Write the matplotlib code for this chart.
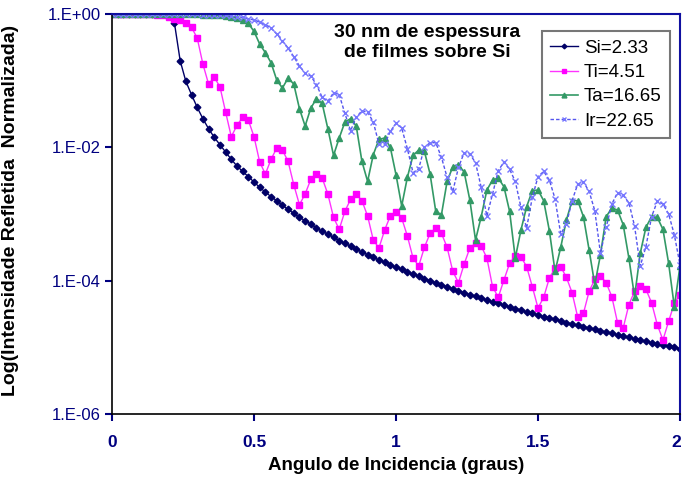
import numpy as np
import matplotlib
matplotlib.use("Agg")
import matplotlib.pyplot as plt
import matplotlib.transforms as mtransforms
from matplotlib.ticker import FixedLocator, NullLocator, FixedFormatter

plt.rcParams['font.family'] = ['Liberation Sans', 'DejaVu Sans']

# incidence angle grid (degrees)
angle = np.linspace(0.0, 2.0, 101)

# log10 of normalised reflected intensity
si_log = [0, 0, 0, 0, 0, 0, 0, 0, 0, 0,
          -0.01, -0.14, -0.70, -1.01, -1.21, -1.40, -1.57, -1.72, -1.85, -1.96,
          -2.07, -2.18, -2.28, -2.36, -2.44, -2.52, -2.60, -2.67, -2.74, -2.80,
          -2.87, -2.93, -2.99, -3.05, -3.10, -3.15, -3.21, -3.26, -3.30, -3.35,
          -3.40, -3.44, -3.48, -3.53, -3.57, -3.61, -3.65, -3.69, -3.72, -3.76,
          -3.80, -3.83, -3.87, -3.90, -3.93, -3.97, -4.00, -4.03, -4.06, -4.09,
          -4.12, -4.15, -4.18, -4.21, -4.23, -4.26, -4.29, -4.32, -4.34, -4.37,
          -4.39, -4.42, -4.44, -4.47, -4.49, -4.51, -4.54, -4.56, -4.58, -4.60,
          -4.63, -4.65, -4.67, -4.69, -4.71, -4.73, -4.75, -4.77, -4.79, -4.81,
          -4.83, -4.85, -4.87, -4.89, -4.91, -4.93, -4.95, -4.96, -4.98, -5.00,
          -5.02]

ti_log = [0, 0, 0, 0, 0, 0, 0, 0, -0.01, -0.02,
          -0.04, -0.07, -0.09, -0.13, -0.20, -0.36, -0.75, -1.05, -0.95, -1.09,
          -1.47, -1.84, -1.67, -1.55, -1.59, -1.84, -2.22, -2.40, -2.18, -2.01,
          -2.04, -2.21, -2.56, -2.86, -2.70, -2.48, -2.40, -2.46, -2.70, -3.05,
          -3.23, -2.96, -2.78, -2.70, -2.80, -3.03, -3.39, -3.51, -3.24, -3.03,
          -2.97, -3.06, -3.33, -3.66, -3.78, -3.50, -3.29, -3.21, -3.29, -3.50,
          -3.86, -4.03, -3.75, -3.51, -3.44, -3.48, -3.66, -4.09, -4.25, -3.99,
          -3.74, -3.63, -3.64, -3.79, -4.09, -4.41, -4.25, -3.96, -3.81, -3.79,
          -3.95, -4.18, -4.55, -4.49, -4.16, -3.98, -3.93, -4.03, -4.24, -4.63,
          -4.71, -4.36, -4.16, -4.08, -4.13, -4.33, -4.66, -4.89, -4.61, -4.34,
          -4.21]

ta_log = [0, 0, 0, 0, 0, 0, 0, 0, 0, 0,
          0, 0, 0, 0, 0, 0, -0.01, -0.01, -0.02, -0.02,
          -0.03, -0.04, -0.06, -0.09, -0.14, -0.26, -0.45, -0.58, -0.73, -0.99,
          -1.11, -0.96, -1.05, -1.42, -1.68, -1.41, -1.27, -1.34, -1.72, -2.12,
          -1.86, -1.62, -1.57, -1.68, -2.21, -2.51, -2.11, -1.88, -1.86, -2.00,
          -2.41, -2.88, -2.45, -2.12, -2.04, -2.06, -2.40, -2.96, -3.01, -2.51,
          -2.29, -2.26, -2.37, -2.79, -3.39, -3.04, -2.64, -2.49, -2.46, -2.59,
          -2.96, -3.66, -3.24, -2.89, -2.65, -2.64, -2.80, -3.25, -3.86, -3.50,
          -3.09, -2.80, -2.80, -3.04, -3.54, -4.06, -3.61, -3.04, -2.91, -2.94,
          -3.16, -3.66, -4.24, -3.59, -3.20, -3.04, -3.05, -3.23, -3.74, -4.39,
          -3.78]

ir_log = [0, 0, 0, 0, 0, 0, 0, 0, 0, 0,
          0, 0, 0, 0, 0, 0, -0.01, -0.01, -0.01, -0.02,
          -0.02, -0.03, -0.04, -0.05, -0.07, -0.09, -0.12, -0.16, -0.21, -0.30,
          -0.40, -0.51, -0.64, -0.78, -0.89, -0.93, -1.06, -1.25, -1.31, -1.18,
          -1.21, -1.49, -1.75, -1.55, -1.45, -1.47, -1.62, -1.95, -1.95, -1.76,
          -1.64, -1.71, -2.02, -2.38, -2.32, -2.00, -1.93, -1.93, -2.15, -2.45,
          -2.66, -2.30, -2.08, -2.10, -2.23, -2.60, -3.03, -2.70, -2.35, -2.22,
          -2.33, -2.51, -2.90, -3.21, -2.75, -2.44, -2.36, -2.49, -2.77, -3.30,
          -3.15, -2.80, -2.55, -2.52, -2.66, -2.95, -3.59, -3.20, -2.85, -2.68,
          -2.72, -2.83, -3.18, -3.78, -3.49, -3.04, -2.81, -2.85, -3.00, -3.31,
          -3.76]

labels = ["Si=2.33", "Ti=4.51", "Ta=16.65", "Ir=22.65"]
ytick_vals = [1e-6, 1e-4, 1e-2, 1e0]
ytick_labels = ["1.E-06", "1.E-04", "1.E-02", "1.E+00"]
xtick_vals = [0, 0.5, 1, 1.5, 2]
xtick_labels = ["0", "0.5", "1", "1.5", "2"]

fig = plt.figure(figsize=(6.83, 4.84), dpi=100)
ax = fig.add_axes([0.164, 0.1446, 0.8316, 0.8264])

ax.plot(angle, 10 ** np.array(si_log), color='#000066', lw=1.0, marker='D',
        ms=3.4, mec='#000066', mfc='#000066', label=labels[0])
ax.plot(angle, 10 ** np.array(ti_log), color='#ff33ff', lw=1.0, marker='s',
        ms=5, mec='#ff00ff', mfc='#ff00ff', label=labels[1])
ax.plot(angle, 10 ** np.array(ta_log), color='#339966', lw=1.2, marker='^',
        ms=5, mec='#339966', mfc='#339966', label=labels[2])
ax.plot(angle, 10 ** np.array(ir_log), color='#5555ee', lw=1.0,
        linestyle=(0, (2.5, 1.5)), marker='x', ms=5, mew=1.0,
        mec='#7777ff', label=labels[3])

ax.set_yscale('log')
ax.set_ylim(1e-6, 1.0)
ax.set_xlim(0, 2)
ax.yaxis.set_major_locator(FixedLocator(ytick_vals))
ax.yaxis.set_major_formatter(FixedFormatter(ytick_labels))
ax.yaxis.set_minor_locator(NullLocator())
ax.set_xticks(xtick_vals)
ax.set_xticklabels(xtick_labels, fontweight='bold')

ax.tick_params(axis='y', direction='out', length=5, width=1.5, colors='#000080',
               labelsize=12, pad=3)
ax.tick_params(axis='x', direction='out', length=5, width=1.5, colors='#000080',
               labelsize=12.5, pad=10)

# nudge the last x tick label so it stays inside the canvas
last_lbl = ax.get_xticklabels()[-1]
last_lbl.set_transform(last_lbl.get_transform() +
                       mtransforms.ScaledTranslation(-4 / 100, 0, fig.dpi_scale_trans))

for side in ['left', 'bottom']:
    ax.spines[side].set_color('black')
    ax.spines[side].set_linewidth(1.2)
for side in ['top', 'right']:
    ax.spines[side].set_color('#1010a0')
    ax.spines[side].set_linewidth(1.5)

ax.set_xlabel("Angulo de Incidencia (graus)", fontsize=13.5, fontweight='bold',
              labelpad=5)
ax.set_ylabel("Log(Intensidade Refletida  Normalizada)", fontsize=14,
              fontweight='bold', labelpad=10)
ax.yaxis.set_label_coords(-0.163, 0.51)

ax.text(0.555, 0.975, "30 nm de espessura\nde filmes sobre Si", transform=ax.transAxes,
        ha='center', va='top', fontsize=14, fontweight='bold', linespacing=1.2)

leg = ax.legend(loc='upper right', bbox_to_anchor=(0.999, 0.98), fontsize=13.5,
                frameon=True, fancybox=False, edgecolor='#555555',
                handlelength=1.5, labelspacing=0.38, borderpad=0.45,
                handletextpad=0.3, markerscale=0.7)
leg.get_frame().set_linewidth(1.5)

fig.savefig("out.png", dpi=100)
